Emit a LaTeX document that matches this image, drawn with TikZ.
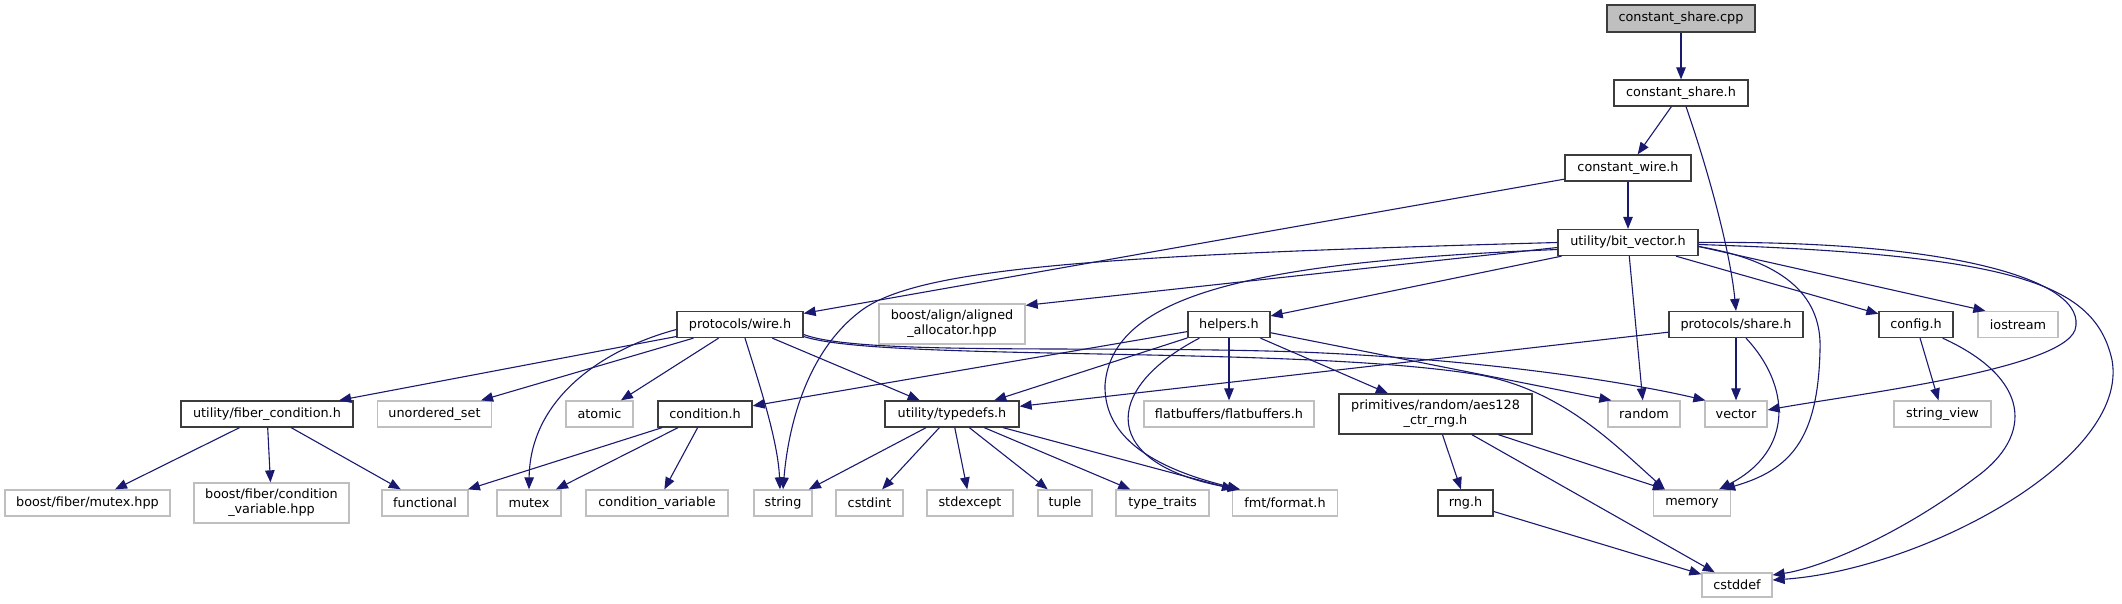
\documentclass[tikz,border=0pt]{standalone}
\usepackage{fontspec}
\setmainfont{DejaVu Sans}
\usetikzlibrary{arrows.meta}
\definecolor{dxEdge}{RGB}{25,25,112}
\definecolor{dxGrey}{RGB}{191,191,191}
\definecolor{dxDark}{RGB}{60,60,60}

\begin{document}
\begin{tikzpicture}[
    x=1pt, y=-1pt,
    font=\fontsize{12.8}{15}\selectfont,
    file node/.style={rectangle, draw=dxDark, line width=1.3pt, fill=white, inner sep=1pt, minimum height=26pt, align=center},
    src node/.style={file node, fill=dxGrey},
    sys node/.style={file node, draw=dxGrey},
    dep/.style={draw=dxEdge, line width=1.1pt, -{Triangle[length=12pt,width=9.5pt]}}
]
  \useasboundingbox (0,0) rectangle (2122,604);

  \node[src node, minimum width=148pt, minimum height=27pt] (cpp) at (1681,18.5) {constant\_share.cpp};
  \node[file node, minimum width=134pt] (csh) at (1681,93) {constant\_share.h};
  \node[file node, minimum width=126pt] (cwire) at (1628,168) {constant\_wire.h};
  \node[file node, minimum width=140pt] (bitvec) at (1628,242.5) {utility/bit\_vector.h};

  \node[file node, minimum width=126pt] (wire) at (740,324.5) {protocols/wire.h};
  \node[sys node, minimum width=146pt, minimum height=40pt] (align) at (952,324) {boost/align/aligned\\\_allocator.hpp};
  \node[file node, minimum width=82pt] (helpers) at (1229,324.5) {helpers.h};
  \node[file node, minimum width=134pt] (share) at (1736,324.5) {protocols/share.h};
  \node[file node, minimum width=74pt] (config) at (1916,324.5) {config.h};
  \node[sys node, minimum width=80pt] (iostream) at (2018,324.5) {iostream};

  \node[file node, minimum width=172pt] (fibercond) at (267,414) {utility/fiber\_condition.h};
  \node[sys node, minimum width=114pt] (uset) at (434.5,414) {unordered\_set};
  \node[sys node, minimum width=67pt] (atomic) at (599.5,414) {atomic};
  \node[file node, minimum width=94pt] (cond) at (705,414) {condition.h};
  \node[file node, minimum width=134pt] (typedefs) at (952,414) {utility/typedefs.h};
  \node[sys node, minimum width=170pt] (flatbuf) at (1229,414) {flatbuffers/flatbuffers.h};
  \node[file node, minimum width=193pt, minimum height=40pt] (aes) at (1435.5,414) {primitives/random/aes128\\\_ctr\_rng.h};
  \node[sys node, minimum width=72pt] (random) at (1644,414) {random};
  \node[sys node, minimum width=62pt] (vector) at (1736,414) {vector};
  \node[sys node, minimum width=97pt] (strview) at (1942.5,414) {string\_view};

  \node[sys node, minimum width=165pt] (fmutex) at (87.5,503) {boost/fiber/mutex.hpp};
  \node[sys node, minimum width=155pt, minimum height=40pt] (fcondvar) at (271.5,503) {boost/fiber/condition\\\_variable.hpp};
  \node[sys node, minimum width=86pt] (functional) at (425,503) {functional};
  \node[sys node, minimum width=64pt] (mutex) at (529,503) {mutex};
  \node[sys node, minimum width=142pt] (condvar) at (657,503) {condition\_variable};
  \node[sys node, minimum width=58pt] (string) at (783,503) {string};
  \node[sys node, minimum width=67pt] (cstdint) at (869.5,503) {cstdint};
  \node[sys node, minimum width=86pt] (stdexcept) at (970,503) {stdexcept};
  \node[sys node, minimum width=54pt] (tuple) at (1065,503) {tuple};
  \node[sys node, minimum width=93pt] (typetraits) at (1162.5,503) {type\_traits};
  \node[sys node, minimum width=105pt] (fmt) at (1285,503) {fmt/format.h};
  \node[file node, minimum width=55pt] (rng) at (1465.5,503) {rng.h};
  \node[sys node, minimum width=77pt] (memory) at (1692,503) {memory};

  \node[sys node, minimum width=70pt, minimum height=24pt] (cstddef) at (1737,585) {cstddef};

  \draw[dep] (cpp) -- (csh);
  \draw[dep] (csh) -- (cwire);
  \draw[dep] ([xshift=5pt]csh.south) .. controls (1708,170) and (1730,250) .. (share.north);
  \draw[dep] (cwire) -- (bitvec);
  \draw[dep] (cwire) -- (wire);

  \draw[dep] (bitvec.west) .. controls (1100,255) and (920,268) .. (862,310) .. controls (805,352) and (788,430) .. (string.north);
  \draw[dep] ([yshift=-5pt]bitvec.west) -- ([yshift=-2pt]align.north east);
  \draw[dep] ([yshift=-7pt]bitvec.west) .. controls (1250,262) and (1112,295) .. (1105,385) .. controls (1104,430) and (1140,465) .. ([xshift=8pt]fmt.north west);
  \draw[dep] (bitvec) -- (helpers);
  \draw[dep] (bitvec) -- (random);
  \draw[dep] ([yshift=-4pt]bitvec.east) .. controls (1790,262) and (1822,300) .. (1820,350) .. controls (1818,440) and (1790,470) .. ([xshift=-8pt]memory.north east);
  \draw[dep] (bitvec) -- (config);
  \draw[dep] ([yshift=-4pt]bitvec.east) -- ([xshift=8pt]iostream.north west);
  \draw[dep] (bitvec.east) .. controls (1950,240) and (2090,280) .. (2075,330) .. controls (2060,370) and (1850,395) .. ([yshift=4pt]vector.east);
  \draw[dep] ([yshift=-2pt]bitvec.east) .. controls (2020,255) and (2095,285) .. (2112,360) .. controls (2130,460) and (1920,570) .. ([yshift=5pt]cstddef.east);

  \draw[dep] (config) -- (strview);
  \draw[dep] ([xshift=-11pt]config.south east) .. controls (2030,378) and (2035,435) .. (1975,478) .. controls (1900,535) and (1820,568) .. ([yshift=10pt]cstddef.east);

  \draw[dep] (share) -- (typedefs);
  \draw[dep] (share) -- (vector);
  \draw[dep] ([xshift=10pt]share.south) .. controls (1790,385) and (1795,450) .. ([xshift=-12pt]memory.north east);

  \draw[dep] (wire) -- (fibercond);
  \draw[dep] (wire) -- (uset);
  \draw[dep] (wire) -- (atomic);
  \draw[dep] ([yshift=-5pt]wire.west) .. controls (600,350) and (530,400) .. (mutex.north);
  \draw[dep] ([xshift=5pt]wire.south) .. controls (758,380) and (778,440) .. ([xshift=-3pt]string.north);
  \draw[dep] (wire) -- (typedefs);
  \draw[dep] ([yshift=-10pt]wire.east) .. controls (860,356) and (1100,345) .. (1300,352) .. controls (1500,360) and (1640,385) .. ([xshift=1pt]vector.north west);
  \draw[dep] ([yshift=-12pt]wire.east) .. controls (880,362) and (1300,345) .. (1480,375) .. controls (1560,390) and (1610,440) .. ([xshift=12pt]memory.north west);

  \draw[dep] (helpers) -- (cond);
  \draw[dep] (helpers) -- (typedefs);
  \draw[dep] ([xshift=12pt]helpers.south west) .. controls (1100,390) and (1100,465) .. ([xshift=8pt]fmt.north west);
  \draw[dep] (helpers) -- (flatbuf);
  \draw[dep] (helpers) -- (aes);
  \draw[dep] (helpers) -- ([xshift=4pt]random.north west);

  \draw[dep] (fibercond) -- (fmutex);
  \draw[dep] (fibercond) -- (fcondvar);
  \draw[dep] (fibercond) -- (functional);
  \draw[dep] (cond) -- (functional);
  \draw[dep] (cond) -- (mutex);
  \draw[dep] (cond) -- (condvar);

  \draw[dep] (typedefs) -- (string);
  \draw[dep] (typedefs) -- (cstdint);
  \draw[dep] (typedefs) -- (stdexcept);
  \draw[dep] (typedefs) -- (tuple);
  \draw[dep] (typedefs) -- (typetraits);
  \draw[dep] (typedefs) -- (fmt);

  \draw[dep] (aes) -- (rng);
  \draw[dep] (aes) -- ([xshift=12pt]memory.north west);
  \draw[dep] (aes) -- (cstddef);
  \draw[dep] (rng) -- (cstddef);
\end{tikzpicture}
\end{document}
